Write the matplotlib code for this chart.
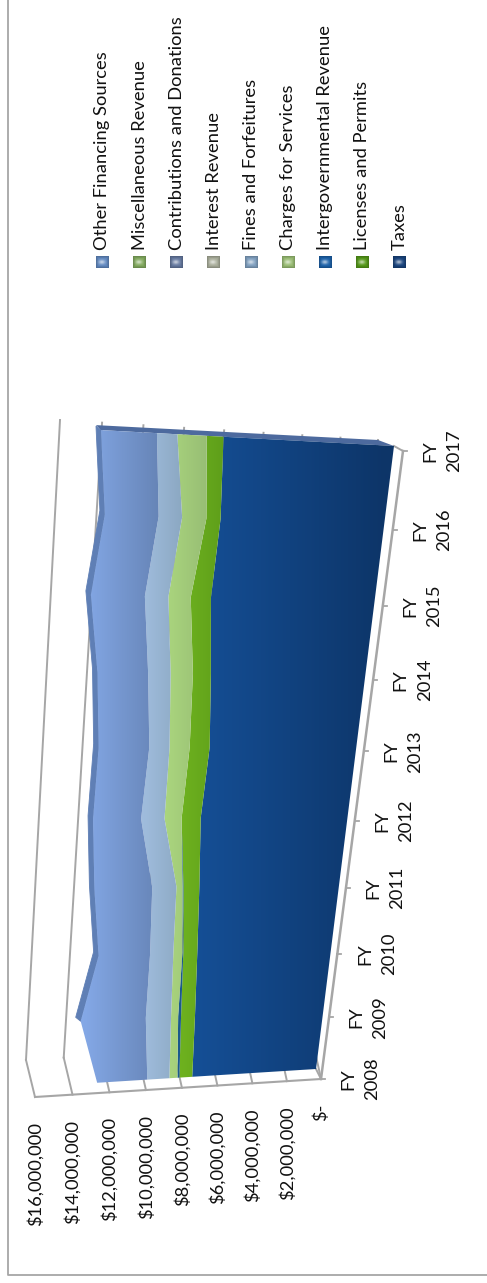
"""
Recreate the rotated 3D stacked area revenue chart.
The axes cover the figure in pixel units, the data goes through small perspective transforms.
"""

import numpy as np
import matplotlib
matplotlib.use("Agg")
import matplotlib.pyplot as plt
from matplotlib.colors import to_rgb
from matplotlib.path import Path
from matplotlib.patches import Polygon
from matplotlib.transforms import Transform

plt.rcParams["font.family"] = ["Lato", "DejaVu Sans"]

years = ["FY\n2008", "FY\n2009", "FY\n2010", "FY\n2011", "FY\n2012",
         "FY\n2013", "FY\n2014", "FY\n2015", "FY\n2016", "FY\n2017"]

# values in millions of dollars
taxes = [7.13, 7.29, 7.48, 7.69, 7.94, 7.80, 8.07, 8.40, 8.26, 8.46]
licenses = [0.72, 0.77, 0.76, 0.85, 1.00, 1.03, 0.91, 1.00, 0.69, 0.80]
intergov = [0.11, 0.16, 0.05, 0.05, 0, 0, 0, 0, 0, 0]
charges = [0.45, 0.39, 0.49, 0.32, 0.89, 1.03, 1.12, 1.10, 1.18, 1.40]
fines = [1.23, 1.38, 1.25, 1.28, 1.21, 1.03, 1.12, 1.15, 1.13, 0.96]
other = [2.75, 3.50, 2.73, 3.01, 2.45, 2.54, 2.49, 2.60, 2.55, 2.60]

value_ticks = [0, 2, 4, 6, 8, 10, 12, 14, 16]
value_labels = ["$-", "$2,000,000", "$4,000,000", "$6,000,000", "$8,000,000",
                "$10,000,000", "$12,000,000", "$14,000,000", "$16,000,000"]

legend_names = ["Other Financing Sources", "Miscellaneous Revenue",
                "Contributions and Donations", "Interest Revenue",
                "Fines and Forfeitures", "Charges for Services",
                "Intergovernmental Revenue", "Licenses and Permits", "Taxes"]
legend_colors = ["#6088c0", "#82aa5e", "#64789f", "#a9ad9a", "#7f9fbf",
                 "#98bc72", "#1a60a8", "#529616", "#17427c"]
legend_x = [102.3, 139.7, 176.7, 213.7, 251, 288.3, 325, 362.3, 399.7]

GRAY = "#a6a6a6"
TEXT = "#111111"
FONT_SIZE = 13.2


class Perspective(Transform):
    """Map (year index, value) to pixels from the four corners of a plane."""
    input_dims = 2
    output_dims = 2
    is_separable = False

    def __init__(self, corners):
        super().__init__()
        src = [(0, 0), (9, 0), (0, 16), (9, 16)]
        a, b = [], []
        for (u, v), (x, y) in zip(src, corners):
            a.append([u, v, 1, 0, 0, 0, -u * x, -v * x])
            a.append([0, 0, 0, u, v, 1, -u * y, -v * y])
            b += [x, y]
        h = np.linalg.solve(np.array(a, float), np.array(b, float))
        self.h = np.append(h, 1).reshape(3, 3)

    def transform_non_affine(self, values):
        values = np.asarray(values, float)
        pts = np.column_stack([values, np.ones(len(values))]) @ self.h.T
        return pts[:, :2] / pts[:, 2:]


front = Perspective([(321, 1079), (403, 451), (35, 1097), (78, 431)])
plane = Perspective([(316, 1069), (394, 446), (30, 1087), (62, 428)])
wall = Perspective([(313, 1042), (378, 440), (26, 1060), (60, 420)])


def gradient(ax, verts, trans, left, right, c_left, c_right):
    """Paint a left to right gradient clipped to a polygon."""
    c0 = np.array(to_rgb(c_left))
    c1 = np.array(to_rgb(c_right))
    t = np.clip((np.arange(487) + 0.5 - left) / (right - left), 0, 1)[:, None]
    img = (c0 + (c1 - c0) * t)[None, :, :]
    im = ax.imshow(img, extent=(0, 487, 1283, 0), aspect="auto", zorder=3,
                   interpolation="bilinear")
    im.set_clip_path(Path(verts, closed=False), trans + ax.transData)


def legend_key(ax, x, color):
    """Small glossy key: darker rim and a light spot left of the centre."""
    c = np.array(to_rgb(color))
    yy, xx = np.mgrid[-1:1:12j, -1:1:13j]
    glow = np.exp(-(((xx + 0.1) / 0.55) ** 2 + (yy / 0.4) ** 2))
    rim = np.clip(np.maximum(abs(xx), abs(yy)) - 0.6, 0, 1)
    img = c * (1 - 0.45 * rim[..., None]) + (1 - c) * 0.6 * glow[..., None]
    ax.imshow(np.clip(img, 0, 1), extent=(x - 6.5, x + 6.5, 268, 256), aspect="auto",
              zorder=3, interpolation="bilinear")


def main():
    fig = plt.figure(figsize=(4.87, 12.83), dpi=100)
    ax = fig.add_axes([0, 0, 1, 1])
    ax.axis("off")

    # outer frame
    ax.plot([7.5, 7.5, 487], [0, 1275, 1275], color=GRAY, lw=1.3)

    # walls and floor
    for v in value_ticks:
        ax.plot([0, 9], [v, v], color=GRAY, lw=1.4, zorder=1, transform=wall + ax.transData)
        p0 = front.transform([[0, v]])[0]
        p1 = wall.transform([[0, v]])[0]
        ax.plot([p0[0], p1[0]], [p0[1], p1[1]], color=GRAY, lw=1.4, zorder=1)
    ax.plot([0, 0], [0, 16], color=GRAY, lw=1.5, zorder=2, transform=front + ax.transData)
    ax.plot([0, 9], [0, 0], color=GRAY, lw=1.8, zorder=2, transform=front + ax.transData)
    for i in range(10):
        p0 = front.transform([[i, 0]])[0]
        ax.plot([p0[0], p0[0] + 4], [p0[1], p0[1]], color=GRAY, lw=1.3, zorder=2)
    for i in (0, 9):
        p0 = front.transform([[i, 0]])[0]
        p1 = plane.transform([[i, 0]])[0]
        ax.plot([p0[0], p1[0]], [p0[1], p1[1]], color=GRAY, lw=1.4, zorder=2)

    # stacked layers
    idx = np.arange(len(years))
    s1 = np.array(taxes)
    s2 = s1 + licenses
    s3 = s2 + intergov
    s4 = s3 + charges
    s5 = s4 + fines
    s6 = s5 + other

    # dark top face of the area, shifted back a little, and the far end cap
    top_front = plane.transform(np.column_stack([idx[1:], s6[1:]]))
    top_back = top_front + [-5, -4]
    face = np.vstack([top_front, top_back[::-1]])
    ax.add_patch(Polygon(face, closed=True, facecolor="#5f7fb5", edgecolor="#5f7fb5",
                         lw=0.6, zorder=2.5))
    end_top = plane.transform([[9, s6[-1]]])[0]
    end_base = plane.transform([[9, 0]])[0]
    cap = [end_top, end_top + [-5, -5], end_base + [-16, -6], end_base]
    ax.add_patch(Polygon(cap, closed=True, facecolor="#4d6a9e", edgecolor="none", zorder=2.5))

    layers = [
        (np.zeros(10), s1, 195, 385, "#154f96", "#0d3568"),
        (s1, s2, 178, 225, "#6fb31f", "#5e9e1a"),
        (s2, s3, 175, 185, "#1b5a8c", "#1b5a8c"),
        (s3, s4, 165, 210, "#abd67e", "#96bc74"),
        (s4, s5, 145, 185, "#9fbcdc", "#8aa6c0"),
        (s5, s6, 85, 160, "#84a8e6", "#6684b6"),
    ]
    for lo, hi, left, right, c0, c1 in layers:
        verts = np.vstack([np.column_stack([idx, hi]),
                           np.column_stack([idx[::-1], lo[::-1]]),
                           [[0, hi[0]]]])
        gradient(ax, verts, plane, left, right, c0, c1)

    # tick labels
    for v, label in zip(value_ticks, value_labels):
        ax.annotate(label, xy=(0, v), xycoords=front + ax.transData, xytext=(0, -18),
                    textcoords="offset points", rotation=90, ha="center", va="top",
                    fontsize=FONT_SIZE, color=TEXT, zorder=5)
    for i, label in enumerate(years):
        ax.annotate(label, xy=(i, 0), xycoords=front + ax.transData, xytext=(28.5, 0),
                    textcoords="offset points", rotation=90, ha="center", va="center",
                    multialignment="center", linespacing=1.6, fontsize=FONT_SIZE,
                    color=TEXT, zorder=5)

    # legend
    for name, color, x in zip(legend_names, legend_colors, legend_x):
        ax.text(x, 250.5, name, rotation=90, ha="center", va="bottom", fontsize=FONT_SIZE,
                color=TEXT)
        legend_key(ax, x, color)

    ax.set_xlim(0, 487)
    ax.set_ylim(1283, 0)
    fig.savefig("out.png", dpi=100)
    plt.close(fig)


if __name__ == "__main__":
    main()
